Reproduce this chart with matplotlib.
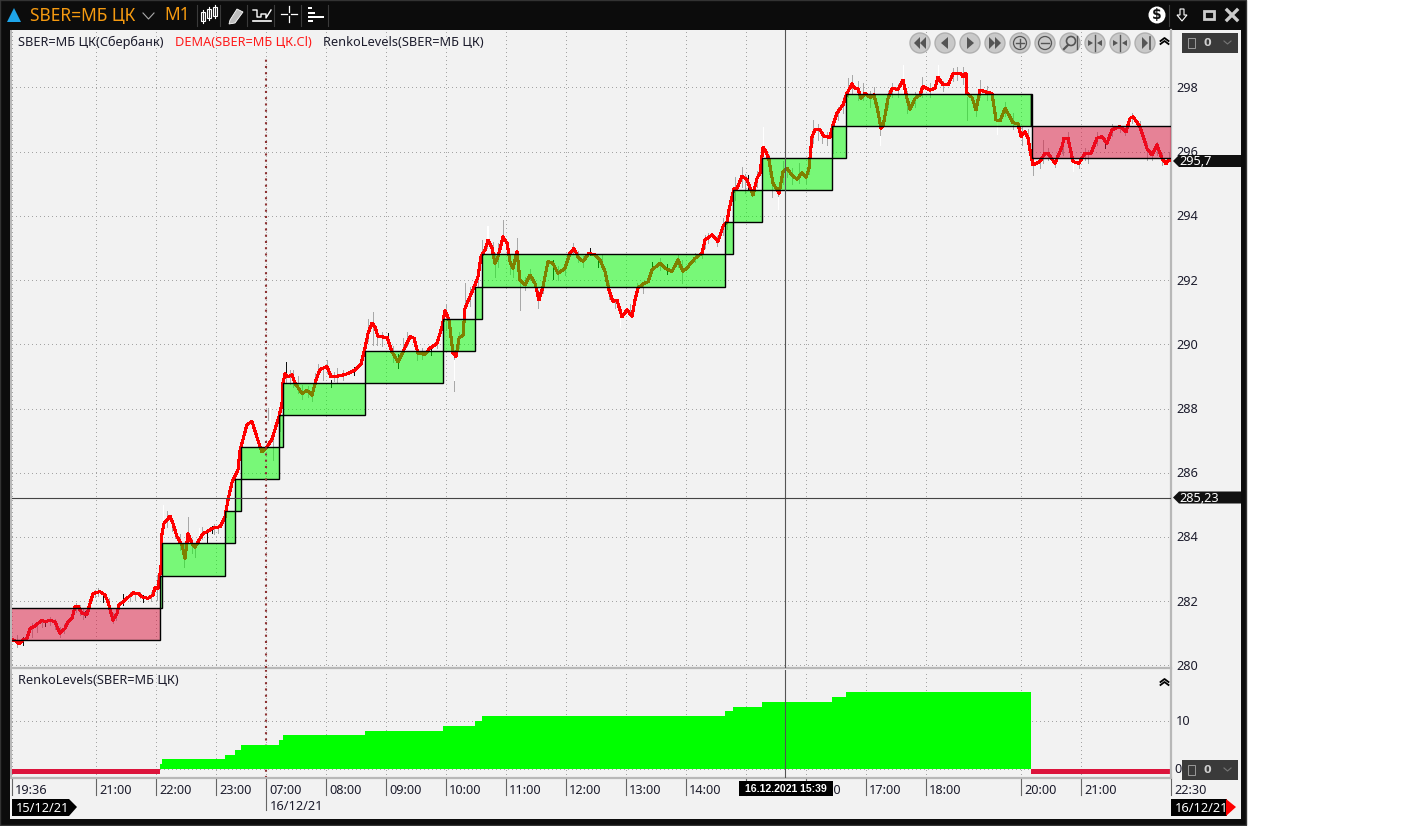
import numpy as np
import matplotlib
matplotlib.use('Agg')
import matplotlib.pyplot as plt
from matplotlib.patches import Rectangle, Circle, Polygon

plt.rcParams['font.family'] = ['Noto Sans', 'DejaVu Sans']

# --- data, x is the bar number (one bar per minute)
dema_bars = [0, 5, 7, 11, 15, 18, 23, 30, 33, 38, 43, 48, 53, 56, 60, 63, 66, 70, 75, 78, 81, 88, 93, 96, 101, 105, 107,
             115, 121, 126, 131, 136, 141, 143, 146, 149, 150, 152, 158, 161, 165, 170, 173, 176, 180, 183, 186, 191,
             195, 200, 208, 213, 216, 220, 226, 228, 235, 240, 246, 250, 256, 260,
             267, 270, 271, 273, 276, 280, 283, 290, 295, 300, 304, 308, 315, 319, 328, 335, 343, 349, 353, 356, 360,
             363, 366, 375, 380, 386, 391, 398, 402, 406, 413, 418, 425, 430, 433, 437, 441, 444, 447, 451, 453, 458,
             463, 466, 469, 473, 476, 480, 483, 486, 491, 495, 498, 501, 505, 508, 513, 518, 523, 527, 531, 536, 541,
             546, 553, 558, 562, 566, 571, 577, 583, 588, 593, 597, 601, 605, 610, 615, 620, 623, 626, 631, 636, 640,
             648, 653, 660, 666, 671, 676, 683, 690, 693, 700, 706, 711, 715, 717, 722, 725, 730, 735, 741, 745, 748,
             751, 754, 757, 761, 767, 771, 775, 780, 785, 790, 794, 797, 800, 803, 808, 812, 818, 821, 825, 831, 835,
             840, 843, 846, 849, 853, 858, 862, 865, 869, 871, 876, 880, 886, 891, 895, 898, 903, 908, 911, 918, 923,
             926, 931, 936, 941, 948, 951, 954, 955, 960, 964, 968, 975, 980, 984, 988, 993, 998, 1001, 1006, 1009,
             1013, 1016, 1018, 1021, 1028, 1033, 1036, 1043, 1050, 1052, 1056, 1061, 1067, 1073, 1079, 1085, 1090,
             1095, 1100, 1108, 1114, 1118, 1121, 1128, 1135, 1140, 1145, 1150, 1154, 1157, 1159]
dema_values = [280.81, 280.74, 280.67, 280.79, 280.84, 281.15, 281.23, 281.41, 281.36, 281.41, 281.36, 281.00, 281.15,
               281.36, 281.47, 281.83, 281.85, 281.62, 281.59, 281.93, 282.24, 282.30, 282.19, 281.98, 281.41, 281.62,
               281.88, 282.09, 282.26, 282.24, 282.12, 282.09, 282.19, 282.43, 282.40, 283.07, 284.11, 284.42, 284.65,
               284.42, 284.01, 283.75, 283.33, 284.11, 283.80, 283.67, 283.85, 284.11, 284.16, 284.27, 284.32, 284.63,
               285.15, 285.70, 286.10, 286.70, 287.50, 287.60, 287.00, 286.65, 286.85, 287.05,
               287.75, 288.16, 288.79, 289.08, 288.99, 289.05, 288.79, 288.47, 288.56, 288.42, 288.89, 289.22, 289.31,
               288.99, 289.02, 289.08, 289.20, 289.39, 289.88, 290.34, 290.66, 290.55, 290.24, 290.22, 289.77, 289.46,
               289.77, 290.24, 290.19, 289.72, 289.69, 289.88, 290.03, 290.55, 291.05, 290.76, 289.72, 289.62, 290.19,
               290.29, 291.12, 291.49, 291.85, 292.11, 292.73, 292.94, 293.25, 293.00, 292.52, 292.73, 293.35, 293.15,
               292.58, 292.37, 292.89, 292.00, 291.85, 292.16, 291.90, 291.38, 291.80, 292.58, 292.52, 292.21, 292.37,
               292.84, 292.99, 292.73, 292.58, 292.84, 292.78, 292.63, 292.27, 291.69, 291.33, 291.38, 290.86, 291.07,
               290.88, 291.38, 291.75, 291.88, 291.95, 292.32, 292.52, 292.37, 292.27, 292.63, 292.27, 292.42, 292.68,
               292.84, 293.25, 293.41, 293.20, 293.67, 293.82, 294.19, 294.86, 294.86, 295.24, 295.12, 294.65, 295.17,
               295.33, 296.14, 296.00, 295.74, 295.02, 294.71, 295.38, 295.48, 295.27, 295.14, 295.35, 295.20, 295.48,
               296.47, 296.68, 296.68, 296.47, 296.45, 296.83, 297.20, 297.46, 297.82, 298.11, 297.97, 297.97, 297.66,
               297.82, 297.69, 297.77, 297.40, 296.73, 296.78, 297.66, 297.97, 297.94, 298.23, 297.66, 297.32, 297.66,
               297.77, 298.03, 297.92, 297.97, 298.32, 298.08, 298.08, 298.42, 298.44, 298.34, 298.44, 297.82, 297.69,
               297.30, 297.92, 297.85, 297.82, 296.99, 296.96, 297.35, 297.09, 296.90, 296.88, 296.47, 296.62, 296.42,
               296.05, 295.59, 295.69, 295.95, 295.95, 295.64, 296.16, 296.42, 296.42, 295.69, 295.64, 295.95, 295.95,
               296.42, 296.47, 296.26, 296.68, 296.78, 296.62, 297.04, 297.09, 296.78, 296.10, 295.90, 296.21, 295.79,
               295.62, 295.76, 295.72]

gray_bars = [5, 20, 30, 48, 68, 83, 101, 123, 145, 163, 172, 176, 183, 206, 256, 274, 281, 290, 303, 311, 325, 361, 365,
             391, 405, 434, 442, 453, 463, 470, 486, 470, 483, 491, 505, 508, 526, 561, 603, 608, 618, 631, 670, 696,
             705, 723, 730, 751, 760, 766, 775, 787, 801, 810, 821, 836, 851, 868, 880, 910, 945, 955, 968, 1010, 1021,
             1031, 1043, 1051, 1067, 1076, 1108, 1113, 1120, 1135, 1145, 1157,
             25, 38, 43, 52, 64, 71, 86, 97, 104, 118, 128, 139, 155, 160, 168, 180, 190, 202,
             261, 268, 271, 278, 286, 296, 300, 306, 315, 322, 331, 356, 370, 381, 395, 410, 425, 431, 447, 458, 466,
             475, 481, 498, 501, 513, 518, 531, 546, 553, 566, 571, 590, 597, 625, 648, 666, 683, 690, 693, 711, 715,
             733, 745, 757, 771, 780, 794, 797, 806, 815, 826, 831, 840, 846, 858, 862, 876, 886, 895, 903, 918, 931,
             941, 951, 964, 975, 993, 1001, 1016, 1028, 1036, 1050, 1056, 1073, 1085, 1100, 1128, 1140, 1150]
gray_lows = [280.58, 280.89, 281.20, 280.89, 281.57, 282.14, 281.31, 282.04, 282.04, 283.96, 283.07, 284.00, 283.38,
             284.11, 287.65, 288.79, 288.66, 288.31, 288.79, 288.89, 288.79, 289.98, 289.98, 289.72, 289.52, 290.45,
             288.56, 290.90, 291.17, 292.52, 292.42, 292.42, 292.11, 293.35, 292.32, 291.07, 291.12, 292.84, 291.12,
             290.55, 290.97, 291.59, 291.90, 293.15, 293.05, 294.50, 294.91, 295.95, 294.60, 294.34, 295.22, 295.02,
             296.26, 296.26, 295.95, 297.71, 297.61, 296.30, 297.71, 297.71, 298.23, 297.00, 297.71, 296.21, 295.27,
             295.64, 295.53, 295.90, 295.48, 295.64, 296.62, 296.52, 296.88, 295.74, 295.90, 295.74,
             281.05, 281.25, 281.15, 281.00, 281.65, 281.45, 282.15, 281.70, 281.40, 282.00, 282.10, 282.00, 284.30,
             284.20, 283.60, 283.50, 283.95, 284.10,
             286.40, 287.30, 288.20, 288.75, 288.50, 288.35, 288.25, 289.00, 289.10, 288.85, 288.90, 290.10, 289.95,
             289.45, 289.95, 289.55, 289.90, 290.30, 289.90, 291.20, 291.80, 293.00, 292.60, 292.20, 292.10, 291.70,
             292.00, 291.60, 292.00, 292.15, 292.55, 292.40, 292.40, 291.40, 291.50, 292.30, 292.40, 292.55, 292.70,
             293.00, 293.40, 293.60,
             294.70, 294.90, 295.30, 295.00, 295.00, 295.00, 295.30, 296.35, 296.20, 297.00, 297.20, 297.80, 297.60,
             297.40, 297.50, 297.40, 297.70, 297.20, 297.40, 297.70, 297.90, 298.20, 298.10, 297.10, 297.60, 297.10,
             296.70, 296.30, 295.50, 295.75, 295.95, 296.20, 295.75, 296.20, 296.50, 296.60, 295.75, 295.60]
gray_highs = [280.95, 281.31, 281.46, 281.20, 281.88, 282.36, 281.62, 282.26, 282.81, 284.22, 283.80, 284.63, 283.67,
              284.27, 288.01, 289.46, 289.20, 288.73, 289.10, 289.31, 289.25, 291.02, 290.45, 290.19, 289.88, 291.23,
              289.82, 291.90, 291.90, 293.25, 293.15, 293.25, 292.84, 293.87, 293.30, 292.00, 291.69, 293.15, 291.38,
              291.07, 291.25, 291.90, 292.63, 293.46, 293.36, 295.22, 295.53, 296.78, 295.22, 294.86, 295.53, 295.64,
              296.99, 296.62, 296.88, 298.28, 298.13, 296.88, 298.13, 298.34, 298.65, 297.71, 298.23, 296.78, 295.85,
              296.36, 295.79, 296.47, 295.69, 296.05, 296.83, 296.68, 297.19, 296.26, 296.31, 296.00,
              281.35, 281.50, 281.45, 281.30, 281.95, 281.75, 282.40, 282.10, 281.75, 282.30, 282.30, 282.30, 284.80,
              284.60, 284.10, 283.95, 284.30, 284.40,
              287.10, 288.10, 288.95, 289.20, 289.00, 288.70, 288.65, 289.40, 289.50, 289.15, 289.20, 290.80, 290.40,
              289.95, 290.40, 289.90, 290.20, 290.90, 290.40, 291.80, 292.40, 293.50, 293.20, 292.80, 292.60, 292.10,
              292.35, 292.00, 292.45, 292.55, 292.90, 292.75, 292.80, 291.90, 291.90, 292.70, 292.80, 292.85, 293.00,
              293.40, 293.95, 294.10,
              295.30, 295.40, 295.90, 295.70, 295.50, 295.40, 295.90, 296.85, 296.60, 297.40, 297.70, 298.40, 298.20,
              297.90, 298.00, 297.90, 298.10, 297.90, 297.85, 298.15, 298.20, 298.60, 298.65, 297.60, 298.05, 297.55,
              297.20, 296.70, 295.85, 296.10, 296.45, 296.60, 296.10, 296.60, 296.85, 296.95, 296.05, 295.95]

white_bars = [109, 151, 187, 258, 476, 475, 608, 442, 751, 766, 891, 926, 985, 868, 1061]
white_lows = [281.78, 284.42, 283.85, 287.55, 293.25, 293.25, 290.55, 288.90, 295.95, 294.20, 297.80, 298.23, 296.55,
              296.20, 295.40]
white_highs = [282.00, 285.00, 284.27, 288.05, 293.69, 293.69, 291.00, 289.50, 296.78, 294.60, 298.70, 298.70, 297.00,
               296.50, 295.65]

black_bars = [11, 33, 73, 91, 111, 131, 195, 200, 274, 319, 342, 376, 386, 419, 541, 578, 586, 640, 655, 736, 1093]
black_lows = [280.63, 281.23, 281.52, 281.98, 281.88, 281.99, 283.82, 284.11, 289.10, 288.68, 289.05, 290.00, 289.25,
              289.68, 292.05, 292.78, 292.42, 292.27, 292.20, 294.81, 296.10]
black_highs = [280.89, 281.41, 281.68, 282.19, 282.22, 282.19, 284.11, 284.34, 289.46, 288.90, 289.30, 290.35, 289.70,
               289.88, 292.62, 293.00, 292.63, 292.55, 292.50, 295.27, 296.36]

# first and last brick run past the visible window
brick_starts = [-3, 148, 150, 213, 223, 229, 267, 271, 353, 431, 463, 470, 713, 721, 750, 820, 834, 1019, 1020]
brick_ends = [148, 150, 213, 223, 229, 267, 271, 353, 431, 463, 470, 713, 721, 750, 820, 834, 1019, 1020, 1162]
brick_lows = [280.8, 281.8, 282.8, 283.8, 284.8, 285.8, 286.8, 287.8, 288.8, 289.8, 290.8, 291.8, 292.8, 293.8, 294.8,
              295.8, 296.8, 296.8, 295.8]
renko_levels = [-1.1, 1, 2, 3, 4, 5, 6, 7, 8, 9, 10, 11, 12, 13, 14, 15, 16, -1.1, -1.1]

time_bars = [0, 84, 144, 204, 254, 314, 374, 434, 494, 554, 614, 674, 734, 794, 854, 914, 1009, 1069, 1159]
time_labels = ['19:36', '21:00', '22:00', '23:00', '07:00', '08:00', '09:00', '10:00', '11:00', '12:00', '13:00',
               '14:00', '15:00', '16:00', '17:00', '18:00', '20:00', '21:00', '22:30']
price_ticks = [280, 282, 284, 286, 288, 290, 292, 294, 296, 298]
renko_ticks = [0, 10]
cursor_bar = 773
cursor_price = 285.23
last_price = 295.7
session_bar = 254

W, H = 1414, 826
fig = plt.figure(figsize=(W / 100, H / 100), dpi=100, facecolor='white')


def px_axes(left, top, right, bottom, z):
    return fig.add_axes([left / W, 1 - bottom / H, (right - left) / W, (bottom - top) / H], zorder=z)


# window background
bg = fig.add_axes([0, 0, 1, 1], zorder=0)
bg.set_xlim(0, W)
bg.set_ylim(H, 0)
bg.axis('off')
bg.add_patch(Rectangle((0, 0), 1246, 825, fc='#0c0c0c', ec='#333333', lw=1))
bg.add_patch(Rectangle((10, 30), 1231, 789, fc='#f2f2f2', ec='none'))
grad = np.linspace(0.2, 0.03, 27).reshape(-1, 1)
bg.imshow(grad, cmap='gray', vmin=0, vmax=1, extent=(3, 1243, 29, 2), aspect='auto')
bg.set_xlim(0, W)
bg.set_ylim(H, 0)

# main panel
GRID = dict(color='#a4a4a4', linestyle=(0, (1, 3)), linewidth=0.72, antialiased=False)
ax = px_axes(12, 30, 1171, 668, 1)
ax.set_facecolor('#f2f2f2')
ax.set_xlim(0, 1159)
ax.set_ylim(279.92, 299.79)
for b in time_bars:
    ax.axvline(b, zorder=1, **GRID)
for p in price_ticks:
    ax.axhline(p, zorder=1, **GRID)
ax.vlines(gray_bars, gray_lows, gray_highs, color='#a8a8a8', lw=0.7, zorder=2, antialiased=False)
ax.vlines(white_bars, white_lows, white_highs, color='white', lw=0.7, zorder=2, antialiased=False)
ax.vlines(black_bars, black_lows, black_highs, color='#111111', lw=0.7, zorder=2, antialiased=False)
ax.plot(dema_bars, dema_values, color='#ff0000', lw=1.5, zorder=3, antialiased=False)
for s, e, lo, lvl in zip(brick_starts, brick_ends, brick_lows, renko_levels):
    fc = (0, 1, 0, 0.5) if lvl > 0 else (0.863, 0.078, 0.235, 0.5)
    ax.bar(s, 1.0, width=e - s, bottom=lo, align='edge', color=fc, edgecolor='black', linewidth=1.0, zorder=4)
ax.axvline(cursor_bar, color='#555555', lw=0.8, zorder=5)
ax.axhline(cursor_price, color='#444444', lw=0.8, zorder=5)
ax.plot([session_bar, session_bar], [279.92, 298.92], color='#8c3232', linestyle=(0, (1, 2)), lw=1.5, zorder=5)

# renko panel
ax2 = px_axes(12, 670, 1171, 778, 1)
ax2.set_facecolor('#f2f2f2')
ax2.set_xlim(0, 1159)
ax2.set_ylim(-1.875, 20.6)
for b in time_bars:
    ax2.axvline(b, zorder=1, **GRID)
for t in renko_ticks:
    ax2.axhline(t, zorder=1, **GRID)
ax2.axvline(session_bar, color='#8c3232', linestyle=(0, (1, 2)), lw=1.5, zorder=1)
for s, e, lvl in zip(brick_starts, brick_ends, renko_levels):
    ax2.bar(s, lvl, width=e - s, align='edge', color='#00ff00' if lvl > 0 else '#dc143c', linewidth=0, zorder=2)
ax2.axvline(cursor_bar, color='#555555', lw=0.8, zorder=5)

for a in (ax, ax2):
    a.set_xticks([])
    a.set_yticks([])
    for name, sp in a.spines.items():
        sp.set_color('#b8b8b8')
        sp.set_linewidth(1.6)
    a.spines['top'].set_visible(False)
    a.spines['left'].set_visible(False)

# overlay in picture pixels for labels and the toolbar
ov = fig.add_axes([0, 0, 1, 1], zorder=3)
ov.patch.set_alpha(0)
ov.set_xlim(0, W)
ov.set_ylim(H, 0)
ov.axis('off')
FS = 9.2
TXT = '#1c1c2c'

ov.add_patch(Rectangle((10, 30), 2, 749, fc='#b8b8b8', ec='none'))

# price scale labels, positions taken from the axes
for p in price_ticks:
    y = ax.transData.transform((0, p))[1]
    ov.text(1176, H - y + 1, str(p), fontsize=FS, color=TXT, va='center', ha='left')
for t in renko_ticks:
    y = ax2.transData.transform((0, t))[1]
    ov.text(1174.5 if t == 0 else 1176, H - y + 0.5, str(t), fontsize=FS, color=TXT, va='center', ha='left', zorder=7)

# time scale
for b, lab in zip(time_bars, time_labels):
    x = ax.transData.transform((b, 0))[0]
    ov.plot([x, x], [779, 810 if lab == '07:00' else 795], color='#666666', lw=0.8)
    ov.text(x + 3, 790, lab, fontsize=FS, color=TXT, va='center', ha='left')
ov.text(270, 807, '16/12/21', fontsize=FS, color=TXT, va='center', ha='left')
ov.add_patch(Polygon([(12, 799), (69, 799), (77, 807), (69, 816), (12, 816)], fc='black', ec='none', zorder=5))
ov.text(16, 808, '15/12/21', fontsize=FS, color='white', va='center', ha='left', zorder=6)
ov.add_patch(Rectangle((1171, 799), 56, 17, fc='black', ec='none', zorder=5))
ov.text(1175, 808, '16/12/21', fontsize=FS, color='white', va='center', ha='left', zorder=6)
ov.add_patch(Polygon([(1226, 799), (1236, 807), (1226, 816)], fc='#ff0000', ec='none', zorder=6))
ov.add_patch(Rectangle((739, 781), 94, 15, fc='black', ec='none', zorder=5))
ov.text(786, 789, '16.12.2021 15:39', fontsize=7.6, color='white', va='center', ha='center', fontweight='bold',
        family='Liberation Sans', zorder=6)

# price tags
for yc, lab in ((161, '295,7'), (497.5, '285,23')):
    ov.add_patch(Polygon([(1173, yc), (1179, yc - 6), (1241, yc - 6), (1241, yc + 6), (1179, yc + 6)],
                         fc='#111111', ec='none', zorder=5))
    ov.text(1179, yc + 0.5, lab, fontsize=FS, color='white', va='center', ha='left', zorder=6)

# legend lines
ov.text(18, 42, 'SBER=МБ ЦК(Сбербанк)', fontsize=FS, color=TXT, va='center', ha='left')
ov.text(175, 42, 'DEMA(SBER=МБ ЦК.Cl)', fontsize=FS, color='#ff1a1a', va='center', ha='left')
ov.text(323, 42, 'RenkoLevels(SBER=МБ ЦК)', fontsize=FS, color=TXT, va='center', ha='left')
ov.text(18, 681, 'RenkoLevels(SBER=МБ ЦК)', fontsize=FS, color=TXT, va='center', ha='left')

# toolbar left
ov.add_patch(Polygon([(7, 22), (14, 8), (21, 22)], fc='#1ea5ea', ec='none'))
ov.text(30, 16.5, 'SBER=МБ ЦК', fontsize=12.5, color='#f59a10', va='center', ha='left')
ov.plot([143, 148.5, 154], [13, 19, 13], color='#aaaaaa', lw=0.8)
ov.text(164, 15.5, 'M1', fontsize=12.5, color='#f59a10', va='center', ha='left')
for x in (197, 220, 247, 274, 301, 328):
    ov.plot([x, x], [5, 26], color='#3a3a3a', lw=0.8)
# candle icon
for x, y0, h in ((201, 12, 9), (207, 9, 9), (213, 7, 9)):
    ov.plot([x + 1.5, x + 1.5], [y0 - 2, y0 + h + 2], color='white', lw=0.8)
    ov.add_patch(Rectangle((x, y0), 3.5, h, fc='#222222', ec='white', lw=0.8))
# pencil icon
ov.add_patch(Polygon([(230, 20), (237, 9), (243, 12), (235, 23), (229, 24)], fc='#bdbdbd', ec='white', lw=0.6))
# levels icon
ov.plot([253, 271], [21, 21], color='white', lw=1.2)
ov.plot([253, 257, 257, 261, 261, 266, 266, 271], [10, 10, 17, 17, 14, 14, 18, 10], color='white', lw=1.0)
# cross icon
ov.plot([281, 287], [14, 14], color='white', lw=0.9)
ov.plot([291, 297], [14, 14], color='white', lw=0.9)
ov.plot([289, 289], [6, 12], color='white', lw=0.9)
ov.plot([289, 289], [16, 22], color='white', lw=0.9)
# depth icon
for y, w in ((8, 4), (13, 7), (17, 16), (21, 5)):
    ov.add_patch(Rectangle((308, y - 1.2), w, 2.4, fc='white', ec='none'))

# toolbar right
ov.add_patch(Circle((1157, 15), 8.5, fc='white', ec='none'))
ov.text(1157, 15, '$', fontsize=10, color='#111111', fontweight='bold', va='center', ha='center',
        family='DejaVu Sans')
ov.plot([1169, 1169], [5, 26], color='#3a3a3a', lw=0.8)
ov.add_patch(Polygon([(1180, 9), (1184, 9), (1184, 15), (1187, 15), (1182, 21), (1177, 15), (1180, 15)],
                     fc='#111111', ec='white', lw=0.8))
ov.add_patch(Rectangle((1204, 11), 10, 8, fc='#111111', ec='#cccccc', lw=2))
ov.plot([1227, 1237], [10, 20], color='#cccccc', lw=2.4)
ov.plot([1227, 1237], [20, 10], color='#cccccc', lw=2.4)

# navigation buttons
for i, x in enumerate((920, 945, 970, 995, 1020, 1045, 1070, 1095, 1120, 1145)):
    ov.add_patch(Circle((x, 43), 10, fc='#c9c9c9', ec='#b0b0b0', lw=1))
G = '#555555'
ov.add_patch(Polygon([(920, 37), (914, 43), (920, 49)], fc=G, ec='none'))
ov.add_patch(Polygon([(926, 37), (920, 43), (926, 49)], fc=G, ec='none'))
ov.add_patch(Polygon([(948, 37), (941, 43), (948, 49)], fc=G, ec='none'))
ov.add_patch(Polygon([(967, 37), (974, 43), (967, 49)], fc=G, ec='none'))
ov.add_patch(Polygon([(989, 37), (995, 43), (989, 49)], fc=G, ec='none'))
ov.add_patch(Polygon([(995, 37), (1001, 43), (995, 49)], fc=G, ec='none'))
ov.add_patch(Circle((1020, 43), 6.5, fc='none', ec=G, lw=0.9))
ov.plot([1016, 1024], [43, 43], color=G, lw=1)
ov.plot([1020, 1020], [39, 47], color=G, lw=1)
ov.add_patch(Circle((1045, 43), 6.5, fc='none', ec=G, lw=0.9))
ov.plot([1041, 1049], [43, 43], color=G, lw=1)
ov.add_patch(Circle((1071, 41), 4.5, fc='none', ec=G, lw=1.2))
ov.plot([1068, 1064], [45, 49], color=G, lw=1.6)
ov.plot([1077, 1077], [36, 49], color=G, lw=1)
for x in (1095, 1120):
    ov.plot([x, x], [35, 51], color=G, lw=1)
    ov.add_patch(Polygon([(x - 7, 40), (x - 2, 43), (x - 7, 46)], fc=G, ec='none'))
    ov.add_patch(Polygon([(x + 7, 40), (x + 2, 43), (x + 7, 46)], fc=G, ec='none'))
ov.add_patch(Polygon([(1142, 37), (1148, 43), (1142, 49)], fc=G, ec='none'))
ov.plot([1150, 1150], [37, 49], color=G, lw=1.2)

# collapse chevrons and the two small drop downs
for y in (38, 679):
    ov.plot([1160.5, 1164.5, 1168.5], [y + 3, y, y + 3], color='black', lw=1.3)
    ov.plot([1160.5, 1164.5, 1168.5], [y + 6, y + 3, y + 6], color='black', lw=1.3)
for y in (33, 760):
    ov.add_patch(Rectangle((1182, y), 56, 20, fc='#3a3a3a', ec='none', zorder=5))
    ov.add_patch(Rectangle((1188, y + 5), 7, 10, fc='none', ec='#999999', lw=0.7, zorder=6))
    ov.text(1203, y + 10, '0', fontsize=8, color='#cfcfcf', fontweight='bold', va='center', ha='left',
            family='DejaVu Sans', zorder=6)
    ov.plot([1224, 1227.5, 1231], [y + 8, y + 11, y + 8], color='#777777', lw=0.8, zorder=6)

fig.savefig('out.png', dpi=100)
